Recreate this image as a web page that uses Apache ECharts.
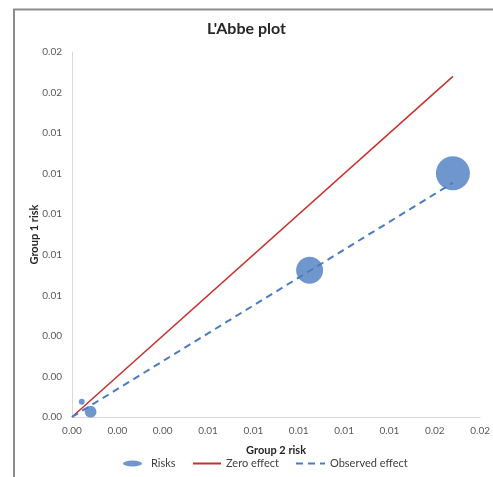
<!DOCTYPE html>
<html>
<head>
<meta charset="utf-8">
<script src="https://cdn.jsdelivr.net/npm/echarts@6/dist/echarts.min.js"></script>
<style>
  html, body { margin: 0; padding: 0; background: #ffffff; }
  #chart { width: 493px; height: 477px; }
</style>
</head>
<body>
<div id="chart"></div>
<script>
// Study risks: group 2 (x) vs group 1 (y), bubble weight per study
const group2Risk = [0.00043, 0.00082, 0.01048, 0.01680];
const group1Risk = [0.00075, 0.00026, 0.00724, 0.01202];
const studyWeight = [3, 12, 63, 100];

// Reference lines: zero effect (y = x) and pooled observed effect
const zeroEffectX = [0, 0.0168];
const zeroEffectY = [0, 0.0168];
const observedEffectX = [0, 0.0168];
const observedEffectY = [0, 0.01155];

const axisMin = 0;
const axisMax = 0.018;
const axisStep = 0.002;

const FONT = 'Lato, "Liberation Sans", sans-serif';
const BLUE = '#6f97cd';
const RED = '#c8302c';
const DASH_BLUE = '#4a7cc4';

const chart = echarts.init(document.getElementById('chart'), null, { renderer: 'canvas' });

const riskData = group2Risk.map((x, i) => [x, group1Risk[i], studyWeight[i]]);
const zeroData = zeroEffectX.map((x, i) => [x, zeroEffectY[i]]);
const obsData = observedEffectX.map((x, i) => [x, observedEffectY[i]]);

const tickFmt = v => Number(v).toFixed(2);

const legendText = { fontFamily: FONT, fontSize: 11, color: '#404040' };

chart.setOption({
  animation: false,
  backgroundColor: '#ffffff',
  graphic: [{
    type: 'rect',
    shape: { x: 14, y: 9.5, width: 600, height: 600 },
    style: { fill: 'none', stroke: '#8c8c8c', lineWidth: 2 },
    silent: true
  }],
  title: {
    text: "L'Abbe plot",
    left: 'center',
    top: 16,
    textStyle: { fontFamily: FONT, fontSize: 16, fontWeight: 'bold', color: '#262626' }
  },
  grid: { left: 72, right: 11, top: 52, bottom: 60, containLabel: false },
  legend: [
    {
      left: 123, top: 458, padding: 0,
      itemWidth: 19, itemHeight: 6,
      textStyle: Object.assign({ padding: [0, 0, 0, 4] }, legendText),
      data: [{ name: 'Risks', icon: 'path://M0,3 A9.5,3 0 1,1 19,3 A9.5,3 0 1,1 0,3 Z' }]
    },
    {
      left: 192, top: 458, padding: 0,
      itemWidth: 28, itemHeight: 8,
      textStyle: legendText,
      data: [{ name: 'Zero effect', itemStyle: { opacity: 0 } }]
    },
    {
      left: 295, top: 458, padding: 0,
      itemWidth: 29, itemHeight: 8,
      textStyle: legendText,
      data: [{ name: 'Observed effect', itemStyle: { opacity: 0 } }]
    }
  ],
  xAxis: {
    type: 'value',
    min: axisMin, max: axisMax, interval: axisStep,
    name: 'Group 2 risk',
    nameLocation: 'middle',
    nameGap: 28,
    nameMoveOverlap: false,
    nameTextStyle: { fontFamily: FONT, fontSize: 11, fontWeight: 'bold', color: '#262626' },
    axisLine: { show: true, lineStyle: { color: '#d9d9d9', width: 1 } },
    axisTick: { show: false },
    splitLine: { show: false },
    axisLabel: { formatter: tickFmt, fontFamily: FONT, fontSize: 10, color: '#595959', margin: 9, showMaxLabel: true }
  },
  yAxis: {
    type: 'value',
    min: axisMin, max: axisMax, interval: axisStep,
    name: 'Group 1 risk',
    nameLocation: 'middle',
    nameGap: 32,
    nameMoveOverlap: false,
    nameTextStyle: { fontFamily: FONT, fontSize: 11, fontWeight: 'bold', color: '#262626' },
    axisLine: { show: true, lineStyle: { color: '#d9d9d9', width: 1 } },
    axisTick: { show: false },
    splitLine: { show: false },
    axisLabel: { formatter: tickFmt, fontFamily: FONT, fontSize: 10, color: '#595959', margin: 10, showMaxLabel: true }
  },
  series: [
    {
      name: 'Risks',
      type: 'scatter',
      data: riskData,
      symbol: 'circle',
      symbolSize: d => 34 * Math.sqrt(d[2] / 100),
      itemStyle: { color: BLUE, opacity: 1 },
      z: 3
    },
    {
      name: 'Zero effect',
      type: 'line',
      data: zeroData,
      symbol: 'none',
      lineStyle: { color: RED, width: 1.5 },
      itemStyle: { color: RED },
      z: 2
    },
    {
      name: 'Observed effect',
      type: 'line',
      data: obsData,
      symbol: 'none',
      lineStyle: { color: DASH_BLUE, width: 2, type: [7, 5] },
      itemStyle: { color: DASH_BLUE },
      z: 4
    }
  ]
});
</script>
</body>
</html>
